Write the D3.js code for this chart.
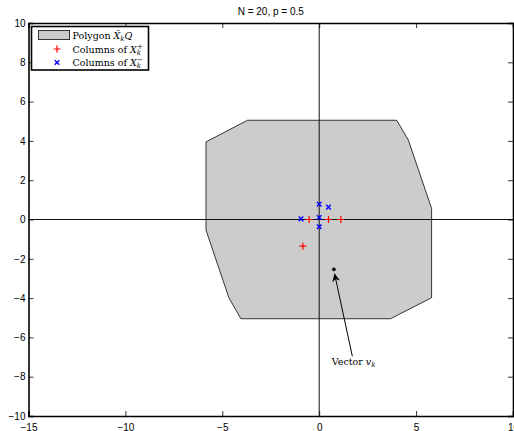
<!DOCTYPE html>
<html>
<head>
<meta charset="utf-8">
<script src="https://cdn.jsdelivr.net/npm/d3@7"></script>
<style>
  body { margin: 0; background: #fff; }
  text { font-family: "Liberation Sans", Arial, sans-serif; }
  .serif { font-family: "DejaVu Serif", "Liberation Serif", serif; }
</style>
</head>
<body>
<div id="chart"></div>
<script>
// polygon vertices (x, y)
const polyX = [-5.84, -3.70, 4.00, 4.60, 5.80, 5.80, 3.68, -4.04, -4.66, -5.84];
const polyY = [3.95, 5.05, 5.05, 4.04, 0.56, -3.98, -5.05, -5.05, -3.98, -0.54];

// columns of X_k^+ (red plus)
const plusX = [-0.52, 0.48, 1.12, -0.84];
const plusY = [0, 0, 0, -1.36];

// columns of X_k^- (blue cross)
const crossX = [0, 0.48, -0.94, 0, 0];
const crossY = [0.78, 0.63, 0.03, 0.10, -0.37];

// vector v_k
const vecX = 0.76;
const vecY = -2.54;

const xTicks = [-15, -10, -5, 0, 5, 10];
const yTicks = [-10, -8, -6, -4, -2, 0, 2, 4, 6, 8, 10];

const w = 514;
const h = 431;

const xScale = d3.scaleLinear()
                 .domain([-15, 10])
                 .range([28.5, 513]);

const yScale = d3.scaleLinear()
                 .domain([-10, 10])
                 .range([416, 23]);

const svg = d3.select("#chart")
              .append("svg")
              .attr("width", w)
              .attr("height", h);

// polygon
const polyPts = polyX.map((x, i) => [xScale(x), yScale(polyY[i])]);
svg.append("polygon")
   .attr("points", polyPts.map(p => p.join(",")).join(" "))
   .attr("fill", "#cccccc")
   .attr("stroke", "#333")
   .attr("stroke-width", 1);

// zero lines
svg.append("line")
   .attr("x1", xScale(-15)).attr("x2", xScale(10))
   .attr("y1", yScale(0)).attr("y2", yScale(0))
   .attr("stroke", "#111").attr("stroke-width", 1);
svg.append("line")
   .attr("x1", xScale(0)).attr("x2", xScale(0))
   .attr("y1", yScale(-10)).attr("y2", yScale(10))
   .attr("stroke", "#111").attr("stroke-width", 1);

// red plus markers
svg.selectAll(".plus")
   .data(plusX.map((x, i) => [x, plusY[i]]))
   .enter()
   .append("path")
   .attr("class", "plus")
   .attr("d", d => {
     const cx = xScale(d[0]), cy = yScale(d[1]), r = 3.5;
     return `M${cx - r},${cy}H${cx + r}M${cx},${cy - r}V${cy + r}`;
   })
   .attr("stroke", "#ff0000")
   .attr("stroke-width", 1.2);

// blue cross markers
svg.selectAll(".cross")
   .data(crossX.map((x, i) => [x, crossY[i]]))
   .enter()
   .append("path")
   .attr("class", "cross")
   .attr("d", d => {
     const cx = xScale(d[0]), cy = yScale(d[1]), r = 2.3;
     return `M${cx - r},${cy - r}L${cx + r},${cy + r}M${cx - r},${cy + r}L${cx + r},${cy - r}`;
   })
   .attr("stroke", "#0000ff")
   .attr("stroke-width", 1.4);

// vector v_k
svg.append("circle")
   .attr("cx", xScale(vecX))
   .attr("cy", yScale(vecY))
   .attr("r", 1.8)
   .attr("fill", "#000");

// annotation arrow
const arrowFrom = [1.71, -6.96];
const arrowTo = [0.79, -2.75];
svg.append("defs").append("marker")
   .attr("id", "head")
   .attr("viewBox", "0 0 10 10")
   .attr("refX", 10).attr("refY", 5)
   .attr("markerWidth", 10).attr("markerHeight", 8)
   .attr("markerUnits", "userSpaceOnUse")
   .attr("orient", "auto")
   .append("path")
   .attr("d", "M0,0L10,5L0,10L3,5Z")
   .attr("fill", "#000");
svg.append("line")
   .attr("x1", xScale(arrowFrom[0])).attr("y1", yScale(arrowFrom[1]))
   .attr("x2", xScale(arrowTo[0])).attr("y2", yScale(arrowTo[1]))
   .attr("stroke", "#000").attr("stroke-width", 1)
   .attr("marker-end", "url(#head)");

const vlab = svg.append("text")
   .attr("class", "serif")
   .attr("x", xScale(0.65))
   .attr("y", yScale(-7.43))
   .attr("font-size", 9.5);
vlab.append("tspan").text("Vector ");
vlab.append("tspan").attr("font-style", "italic").text("v");
vlab.append("tspan").attr("font-size", 7).attr("font-style", "italic").attr("dy", 2).text("k");

// axes box
const xAxisB = d3.axisBottom(xScale).tickValues(xTicks).tickSize(-5).tickFormat(d => d < 0 ? "\u2212" + (-d) : d);
const xAxisT = d3.axisTop(xScale).tickValues(xTicks).tickSize(-5).tickFormat("");
const yAxisL = d3.axisLeft(yScale).tickValues(yTicks).tickSize(-5).tickFormat(d => d < 0 ? "\u2212" + (-d) : d);
const yAxisR = d3.axisRight(yScale).tickValues(yTicks).tickSize(-5).tickFormat("");

const gb = svg.append("g").attr("transform", "translate(0," + yScale(-10) + ")").call(xAxisB);
const gt = svg.append("g").attr("transform", "translate(0," + yScale(10) + ")").call(xAxisT);
const gl = svg.append("g").attr("transform", "translate(" + xScale(-15) + ",0)").call(yAxisL);
const gr = svg.append("g").attr("transform", "translate(" + xScale(10) + ",0)").call(yAxisR);

[gb, gt, gl, gr].forEach(g => {
  g.select(".domain").attr("stroke", "#000").attr("stroke-width", 1.6);
  g.selectAll(".tick line").attr("stroke", "#000").attr("stroke-width", 0.8);
  g.selectAll("text").attr("fill", "#000").attr("font-size", 10)
   .attr("font-family", "Liberation Sans, Arial, sans-serif");
});
gb.selectAll("text").attr("dy", "0.71em").attr("y", 8);
gl.selectAll("text").attr("x", -3);

// title
svg.append("text")
   .attr("x", (xScale(-15) + xScale(10)) / 2)
   .attr("y", 14.5)
   .attr("text-anchor", "middle")
   .attr("font-size", 10)
   .text("N = 20, p = 0.5");

// legend
const leg = svg.append("g");
leg.append("rect")
   .attr("x", 31.5).attr("y", 26.5)
   .attr("width", 117).attr("height", 43.5)
   .attr("fill", "#fff")
   .attr("stroke", "#000").attr("stroke-width", 1.6);
leg.append("rect")
   .attr("x", 38.5).attr("y", 30.5)
   .attr("width", 31).attr("height", 9)
   .attr("fill", "#cccccc")
   .attr("stroke", "#333").attr("stroke-width", 1);
leg.append("path")
   .attr("d", "M53.5,49H60.5M57,45.5V52.5")
   .attr("stroke", "#ff0000").attr("stroke-width", 1.2);
leg.append("path")
   .attr("d", "M54.7,60.2L59.3,64.8M54.7,64.8L59.3,60.2")
   .attr("stroke", "#0000ff").attr("stroke-width", 1.4);

const l1 = leg.append("text").attr("class", "serif").attr("x", 72.5).attr("y", 38.5).attr("font-size", 9.5);
l1.append("tspan").text("Polygon ");
l1.append("tspan").attr("font-style", "italic").text("X\u0303");
l1.append("tspan").attr("font-style", "italic").attr("font-size", 7).attr("dy", 2).text("k");
l1.append("tspan").attr("font-style", "italic").attr("dy", -2).text("Q");

const l2 = leg.append("text").attr("class", "serif").attr("x", 72.5).attr("y", 52.5).attr("font-size", 9.5);
l2.append("tspan").text("Columns of ");
l2.append("tspan").attr("font-style", "italic").text("X");
l2.append("tspan").attr("font-style", "italic").attr("font-size", 7).attr("dy", 2).text("k");
l2.append("tspan").attr("font-size", 7).attr("dx", -4).attr("dy", -6).text("+");

const l3 = leg.append("text").attr("class", "serif").attr("x", 72.5).attr("y", 66).attr("font-size", 9.5);
l3.append("tspan").text("Columns of ");
l3.append("tspan").attr("font-style", "italic").text("X");
l3.append("tspan").attr("font-style", "italic").attr("font-size", 7).attr("dy", 2).text("k");
l3.append("tspan").attr("font-size", 7).attr("dx", -4).attr("dy", -6).text("\u2212");
</script>
</body>
</html>
